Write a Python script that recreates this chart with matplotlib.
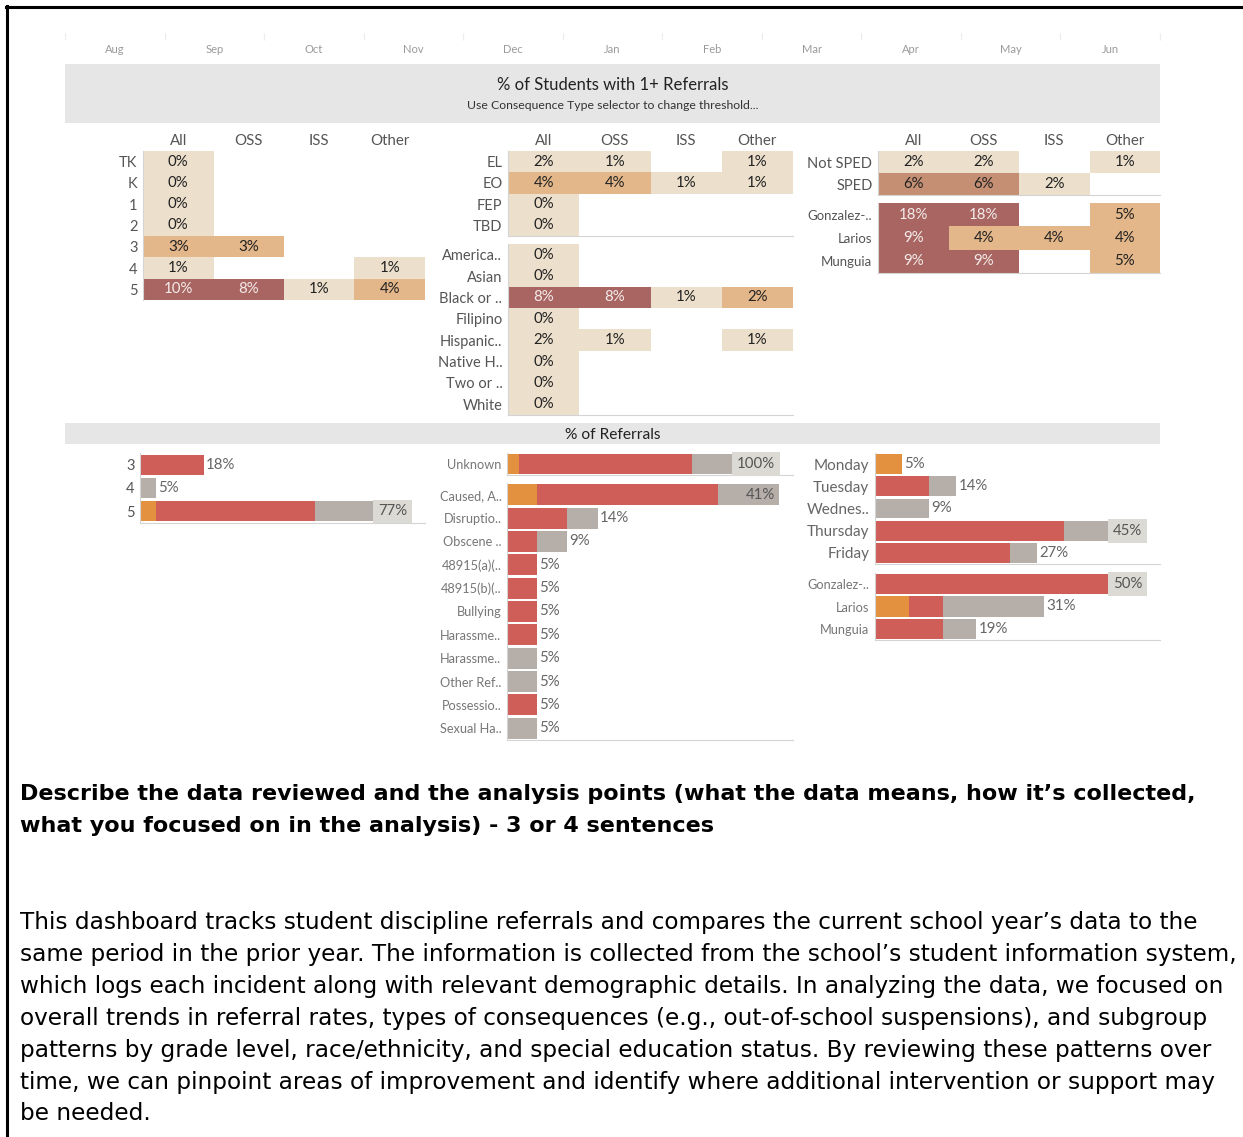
import numpy as np
import matplotlib.pyplot as plt
from matplotlib.colors import ListedColormap, BoundaryNorm
from matplotlib.lines import Line2D

W, H = 1243, 1137
nan = np.nan

months = ['Aug', 'Sep', 'Oct', 'Nov', 'Dec', 'Jan', 'Feb', 'Mar', 'Apr', 'May', 'Jun']
consequences = ['All', 'OSS', 'ISS', 'Other']

# % of students with 1+ referrals
grades = ['TK', 'K', '1', '2', '3', '4', '5']
grade_pct = [[0, nan, nan, nan], [0, nan, nan, nan], [0, nan, nan, nan],
             [0, nan, nan, nan], [3, 3, nan, nan], [1, nan, nan, 1],
             [10, 8, 1, 4]]
el_groups = ['EL', 'EO', 'FEP', 'TBD']
el_pct = [[1.8, 1, nan, 1], [4, 4, 1, 1], [0, nan, nan, nan], [0, nan, nan, nan]]
races = ['America..', 'Asian', 'Black or ..', 'Filipino', 'Hispanic..',
         'Native H..', 'Two or ..', 'White']
race_pct = [[0, nan, nan, nan], [0, nan, nan, nan], [8, 8, 1, 2.4],
            [0, nan, nan, nan], [1.8, 1, nan, 1], [0, nan, nan, nan],
            [0, nan, nan, nan], [0, nan, nan, nan]]
sped_groups = ['Not SPED', 'SPED']
sped_pct = [[1.9, 1.6, nan, 1], [6, 6, 2, nan]]
schools = ['Gonzalez-..', 'Larios', 'Munguia']
school_pct = [[18, 18, nan, 5], [9, 4, 4, 4], [9, 9, nan, 5]]

# % of referrals, three stacked parts (orange, red, gray)
ref_grades = ['3', '4', '5']
ref_grade_parts = [[0, 0, 4.55], [18.18, 0, 45.45], [0, 4.55, 27.27]]
ref_unknown = ['Unknown']
ref_unknown_parts = [[4.55], [63.64], [31.82]]
ref_types = ['Caused, A..', 'Disruptio..', 'Obscene ..', '48915(a)(..', '48915(b)(..',
             'Bullying', 'Harassme..', 'Harassme..', 'Other Ref..', 'Possessio..',
             'Sexual Ha..']
ref_type_parts = [[4.55, 0, 0, 0, 0, 0, 0, 0, 0, 0, 0],
                  [27.27, 9.09, 4.55, 4.55, 4.55, 4.55, 4.55, 0, 0, 4.55, 0],
                  [9.09, 4.55, 4.55, 0, 0, 0, 0, 4.55, 4.55, 0, 4.55]]
ref_days = ['Monday', 'Tuesday', 'Wednes..', 'Thursday', 'Friday']
ref_day_parts = [[4.55, 0, 0, 0, 0], [0, 9.09, 0, 31.82, 22.73],
                 [0, 4.55, 9.09, 13.64, 4.55]]
ref_schools = ['Gonzalez-..', 'Larios', 'Munguia']
ref_school_parts = [[0, 6.25, 0], [43.75, 6.25, 12.5], [6.25, 18.75, 6.25]]

heading = ["Describe the data reviewed and the analysis points (what the data means, how it\u2019s collected,",
           "what you focused on in the analysis) - 3 or 4 sentences"]
body = ["This dashboard tracks student discipline referrals and compares the current school year\u2019s data to the",
        "same period in the prior year. The information is collected from the school\u2019s student information system,",
        "which logs each incident along with relevant demographic details. In analyzing the data, we focused on",
        "overall trends in referral rates, types of consequences (e.g., out-of-school suspensions), and subgroup",
        "patterns by grade level, race/ethnicity, and special education status. By reviewing these patterns over",
        "time, we can pinpoint areas of improvement and identify where additional intervention or support may",
        "be needed."]

plt.rcParams['font.family'] = ['Lato', 'DejaVu Sans']
heat_cmap = ListedColormap(['#ece0cc', '#e3b789', '#c48f72', '#a86561'])
heat_norm = BoundaryNorm([-1, 2.3, 5.5, 7, 100], heat_cmap.N)
seg_colors = ['#e3913f', '#cf5e58', '#b6aea9']
LINE = '#d4d4d4'

fig = plt.figure(figsize=(W / 100, H / 100), dpi=100)


def px_axes(x0, y0, x1, y1):
    return fig.add_axes([x0 / W, 1 - y1 / H, (x1 - x0) / W, (y1 - y0) / H])


def clean(ax, left=True, bottom=True):
    for s in ax.spines.values():
        s.set_visible(False)
    ax.spines['left'].set_visible(left)
    ax.spines['bottom'].set_visible(bottom)
    ax.spines['left'].set_color(LINE)
    ax.spines['bottom'].set_color(LINE)


def heat(box, rows, vals, header=False, labelsize=10.5, bottom=True):
    ax = px_axes(*box)
    v = np.array(vals, float)
    ax.pcolormesh(np.ma.masked_invalid(v), cmap=heat_cmap, norm=heat_norm)
    ax.set_xlim(0, 4)
    ax.set_ylim(len(rows), 0)
    for (i, j), val in np.ndenumerate(v):
        if not np.isnan(val):
            ax.text(j + .5, i + .5, f'{val:.0f}%', ha='center', va='center',
                    fontsize=10.8, color='#f4eceb' if val >= 7 else '#222222')
    ax.set_yticks(np.arange(len(rows)) + .5, rows)
    if header:
        ax.set_xticks(np.arange(4) + .5, consequences)
        ax.xaxis.tick_top()
    else:
        ax.set_xticks([])
    ax.tick_params(length=0, labelsize=labelsize, labelcolor='#555555', pad=4)
    ax.tick_params(axis='x', labelsize=10.8, pad=2)
    clean(ax, bottom=bottom)
    return ax


def bars(box, rows, parts, labelsize, boxed=True, height=0.88, labelcolor='#666666'):
    ax = px_axes(*box)
    n = len(rows)
    y = np.arange(n)
    left = np.zeros(n)
    for seg, c in zip(parts, seg_colors):
        ax.barh(y, seg, left=left, height=height, color=c, linewidth=0)
        left = left + np.array(seg)
    top = left.max()
    ax.set_xlim(0, top * 1.053)
    ax.set_ylim(n - 0.5, -0.5)
    for yi, t in zip(y, left):
        lab = f'{t:.0f}%'
        if t == top:
            bb = dict(boxstyle='square,pad=0.32', fc='#dcdad5', ec='none') if boxed else None
            ax.text(t - top * 0.012, yi, lab, ha='right', va='center', fontsize=10.8,
                    color='#555555', bbox=bb)
        else:
            ax.text(t + top * 0.008, yi, lab, ha='left', va='center', fontsize=10.8,
                    color='#666666')
    ax.set_yticks(y, rows)
    ax.set_xticks([])
    ax.tick_params(length=0, labelsize=labelsize, labelcolor=labelcolor, pad=4)
    clean(ax)
    return ax


# month strip
ax = px_axes(65, 33, 1160, 60)
ax.set_xlim(0, len(months))
ax.set_ylim(0, 1)
ax.set_xticks(np.arange(len(months) + 1), [''] * (len(months) + 1))
ax.xaxis.tick_top()
ax.tick_params(axis='x', length=5, color='#ececec', direction='in')
ax.set_yticks([])
for i, m in enumerate(months):
    ax.text(i + .5, 0.4, m, ha='center', va='center', fontsize=8, color='#9a9a9a')
clean(ax, left=False, bottom=False)

# section bands
band = px_axes(65, 64, 1160, 123)
band.set_facecolor('#e6e6e6')
band.set_xticks([]); band.set_yticks([])
clean(band, left=False, bottom=False)
band.text(.5, .64, '% of Students with 1+ Referrals', ha='center', va='center',
          fontsize=12, color='#222222', transform=band.transAxes)
band.text(.5, .29, 'Use Consequence Type selector to change threshold...', ha='center',
          va='center', fontsize=8.8, color='#333333', transform=band.transAxes)

band2 = px_axes(65, 423, 1160, 444)
band2.set_facecolor('#e6e6e6')
band2.set_xticks([]); band2.set_yticks([])
clean(band2, left=False, bottom=False)
band2.text(.5, .45, '% of Referrals', ha='center', va='center', fontsize=11.2,
           color='#222222', transform=band2.transAxes)

# heatmaps
heat((143, 151, 425, 300), grades, grade_pct, header=True, bottom=False)
heat((508, 151, 793, 236), el_groups, el_pct, header=True)
heat((508, 244, 793, 415), races, race_pct)
heat((878, 151, 1160, 195), sped_groups, sped_pct, header=True)
heat((878, 203, 1160, 273), schools, school_pct, labelsize=9.5)

# referral bars
bars((140, 453, 425, 523), ref_grades, ref_grade_parts, 10.5, height=0.85,
     labelcolor='#555555')
bars((507, 453, 793, 475), ref_unknown, ref_unknown_parts, 9.2, height=0.9,
     labelcolor='#777777')
bars((507, 483, 793, 740), ref_types, ref_type_parts, 9.2, boxed=False, height=0.9,
     labelcolor='#777777')
bars((875, 453, 1160, 564), ref_days, ref_day_parts, 11, height=0.9)
bars((875, 573, 1160, 640), ref_schools, ref_school_parts, 9.2, height=0.9,
     labelcolor='#777777')

# text block
for i, line in enumerate(heading):
    fig.text(20 / W, 1 - (794 + 32 * i) / H, line, ha='left', va='center',
             fontsize=16.0, fontweight='bold', family='DejaVu Sans', color='black')
for i, line in enumerate(body):
    fig.text(20 / W, 1 - (922 + 32 * i) / H, line, ha='left', va='center',
             fontsize=16.7, family='DejaVu Sans', color='black')

# page frame
fig.add_artist(Line2D([6 / W, 1], [1 - 7 / H, 1 - 7 / H], color='black', lw=2.2))
fig.add_artist(Line2D([7 / W, 7 / W], [0, 1 - 6 / H], color='black', lw=2.2))

fig.savefig('out.png', dpi=100, facecolor='white')
